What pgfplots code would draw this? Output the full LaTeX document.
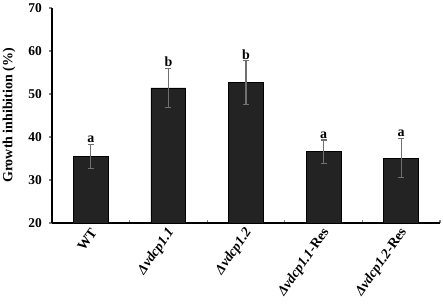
\documentclass[border=0pt]{standalone}
\usepackage{pgfplots}
\pgfplotsset{compat=1.18}
\usepackage{pgfplotstable}
\usepackage{fontspec}
\setmainfont{Liberation Serif}
\definecolor{barfill}{HTML}{232323}
\definecolor{errcol}{HTML}{707070}
\pgfplotstableread{
x y err lab
0 35.5 2.8 a
1 51.4 4.6 b
2 52.6 5.1 b
3 36.6 2.7 a
4 35.1 4.6 a
}\datatable
\pgfplotstableread{
x top lab
0 38.3 a
1 56.0 b
2 57.7 b
3 39.3 a
4 39.7 a
}\labtable
\begin{document}
\begin{tikzpicture}
\begin{axis}[
  scale only axis,
  width=388bp, height=215bp,
  xmin=-0.5, xmax=4.5,
  ymin=20, ymax=70,
  axis lines=left,
  axis line style={-, line width=1.5bp},
  ytick={20,30,...,70},
  xtick={0,1,2,3,4},
  xticklabels={\textbf{WT},
    \textbf{\textit{Δvdcp1.1}},
    \textbf{\textit{Δvdcp1.2}},
    \textbf{\textit{Δvdcp1.1}-Res},
    \textbf{\textit{Δvdcp1.2}-Res}},
  minor xtick={0.5,1.5,2.5,3.5,4.5},
  xtick align=inside,
  ytick align=outside,
  major x tick style={draw=none},
  minor x tick style={line width=1.2bp},
  minor tick length=3bp,
  major tick length=3bp,
  y tick style={line width=1.5bp},
  /pgf/number format/assume math mode=true,
  yticklabel style={font=\fontsize{13.5}{16}\selectfont\bfseries, inner sep=0pt, xshift=-7bp},
  x tick label style={font=\fontsize{14}{16}\selectfont, inner sep=0pt, xshift=3bp, yshift=-7bp, rotate=55, anchor=east},
  every axis y label/.style={at={(axis description cs:0,0.5)}, xshift=-43bp, rotate=90, anchor=center, inner sep=0pt},
  ylabel={\textbf{Growth inhibition (\%)}},
  ylabel style={font=\fontsize{14}{16}\selectfont},
  clip=false,
]
\addplot[ybar, bar width=0.45, fill=barfill, draw=black, line width=0.8bp,
  error bars/.cd, y dir=both, y explicit,
  error bar style={errcol, line width=1.1bp},
  error mark options={rotate=90, mark size=3bp, errcol, line width=1.1bp}]
  table[x=x, y=y, y error=err] {\datatable};
\addplot[draw=none, mark=none, nodes near coords, point meta=explicit symbolic,
  nodes near coords style={font=\fontsize{14}{16}\selectfont\bfseries, anchor=south, inner sep=1pt}]
  table[x=x, y=top, meta=lab] {\labtable};
\path (axis description cs:0,0) ++(-52bp,-85bp);
\path (axis description cs:1,1) ++(3bp,8bp);
\end{axis}
\end{tikzpicture}
\end{document}
